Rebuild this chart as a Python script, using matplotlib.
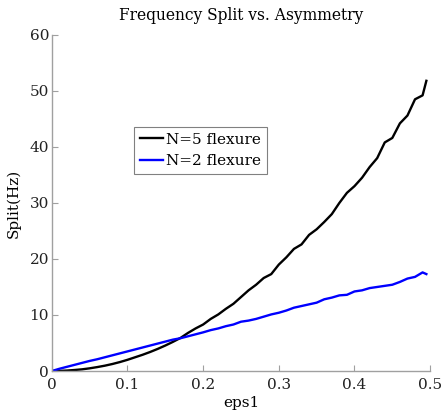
import numpy as np
import matplotlib
matplotlib.use('Agg')
import matplotlib.pyplot as plt

# eps1 values and measured split (Hz) for both flexure designs
eps_n5 = [0.00, 0.01, 0.02, 0.03, 0.04, 0.05, 0.06, 0.07, 0.08, 0.09,
          0.10, 0.11, 0.12, 0.13, 0.14, 0.15, 0.16, 0.17, 0.18, 0.19,
          0.20, 0.21, 0.22, 0.23, 0.24, 0.25, 0.26, 0.27, 0.28, 0.29,
          0.30, 0.31, 0.32, 0.33, 0.34, 0.35, 0.36, 0.37, 0.38, 0.39,
          0.40, 0.41, 0.42, 0.43, 0.44, 0.45, 0.46, 0.47, 0.48, 0.49, 0.495]
split_n5 = [0.0, 0.02, 0.08, 0.18, 0.3, 0.48, 0.7, 0.95, 1.25, 1.6,
            2.0, 2.45, 2.9, 3.4, 3.95, 4.55, 5.2, 5.9, 6.8, 7.6,
            8.3, 9.3, 10.1, 11.1, 12.0, 13.2, 14.4, 15.4, 16.6, 17.3,
            19.0, 20.3, 21.8, 22.6, 24.3, 25.3, 26.6, 28.0, 30.0, 31.8,
            33.0, 34.5, 36.4, 38.0, 40.8, 41.6, 44.2, 45.6, 48.5, 49.2, 51.8]

eps_n2 = eps_n5
split_n2 = [0.0, 0.4, 0.75, 1.1, 1.45, 1.8, 2.1, 2.45, 2.8, 3.15,
            3.5, 3.85, 4.2, 4.55, 4.9, 5.25, 5.6, 5.85, 6.2, 6.55,
            6.9, 7.3, 7.6, 8.0, 8.3, 8.8, 9.0, 9.3, 9.7, 10.1,
            10.4, 10.8, 11.3, 11.6, 11.9, 12.2, 12.8, 13.1, 13.5, 13.6,
            14.2, 14.4, 14.8, 15.0, 15.2, 15.4, 15.9, 16.5, 16.8, 17.6, 17.3]

x_ticks = [0, 0.1, 0.2, 0.3, 0.4, 0.5]
x_labels = ['0', '0.1', '0.2', '0.3', '0.4', '0.5']
y_ticks = [0, 10, 20, 30, 40, 50, 60]

plt.rcParams['font.family'] = ['DejaVu Serif']
plt.rcParams['font.size'] = 11

fig = plt.figure(figsize=(4.43, 4.15), dpi=100)
ax = fig.add_axes([0.117, 0.106, 0.854, 0.81])

ax.plot(eps_n5, split_n5, color='black', linewidth=1.7, label='N=5 flexure')
ax.plot(eps_n2, split_n2, color='blue', linewidth=1.7, label='N=2 flexure')

ax.set_xlim(0, 0.5)
ax.set_ylim(0, 60)
ax.set_xticks(x_ticks)
ax.set_xticklabels(x_labels)
ax.set_yticks(y_ticks)

for s in ['top', 'right']:
    ax.spines[s].set_visible(False)
for s in ['left', 'bottom']:
    ax.spines[s].set_color('#a0a0a0')
    ax.spines[s].set_linewidth(1.0)
ax.tick_params(direction='in', length=4, color='#a0a0a0', labelcolor='#222222', pad=2)
ax.tick_params(axis='x', pad=5)

ax.set_title('Frequency Split vs. Asymmetry', fontsize=11.2, pad=11)
ax.set_xlabel('eps1', labelpad=3)
ax.set_ylabel('Split(Hz)', labelpad=6)

leg = ax.legend(loc='upper left', bbox_to_anchor=(0.217, 0.727), fancybox=False,
                edgecolor='#808080', framealpha=1, handlelength=1.5,
                handletextpad=0.2, borderpad=0.4, labelspacing=0.5,
                borderaxespad=0, fontsize=11)
leg.get_frame().set_linewidth(0.8)

fig.savefig('out.png', dpi=100)
